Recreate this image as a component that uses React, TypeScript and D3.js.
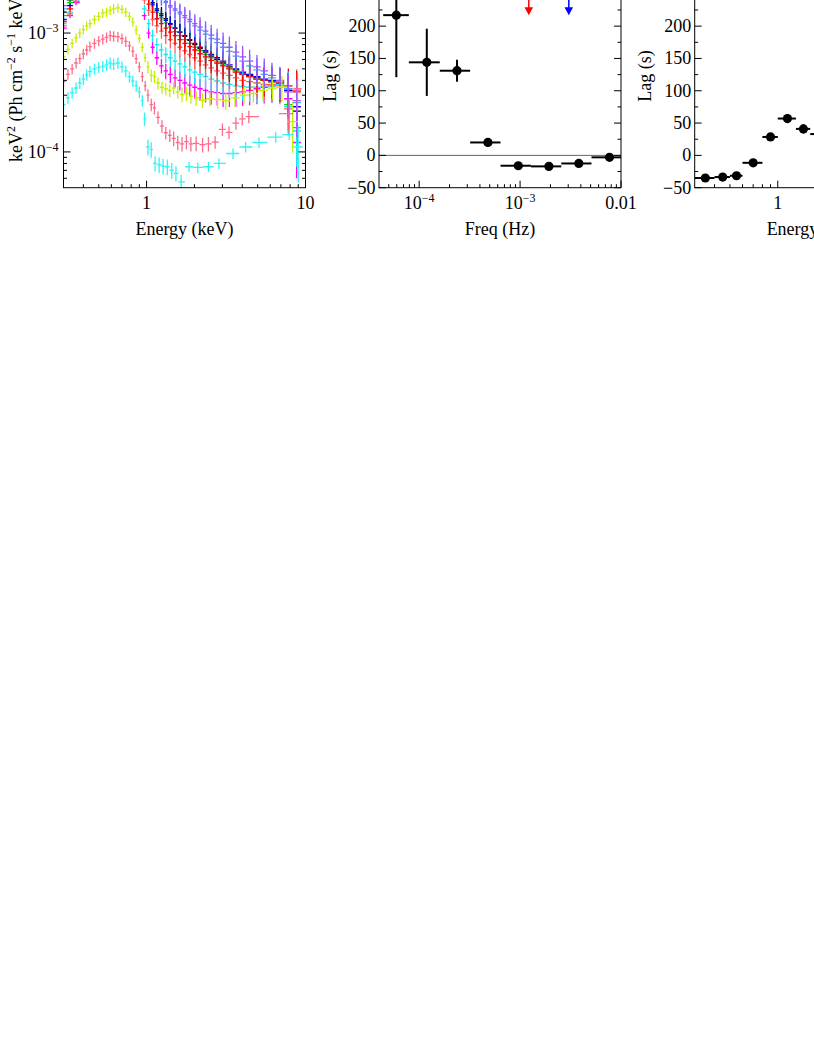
import React from "react";
import * as d3 from "d3";

// ---------------- Panel 1: unfolded spectra (keV^2 Ph cm^-2 s^-1 keV^-1) ----------------
const HI_ENERGY = [0.30, 0.33, 0.36, 0.40, 0.45, 0.52, 0.60, 0.70, 0.80, 0.90, 0.97, 1.03, 1.09, 1.16, 1.24, 1.32, 1.41, 1.51, 1.62, 1.74, 1.87, 2.01, 2.17, 2.35, 2.55, 2.78, 3.03, 3.32, 3.65, 4.02, 4.45, 4.95, 5.50, 6.15, 6.90, 7.80, 8.80];
const HI_ERR = [0.05, 0.05, 0.05, 0.05, 0.05, 0.05, 0.05, 0.05, 0.05, 0.06, 0.08, 0.10, 0.12, 0.13, 0.14, 0.15, 0.16, 0.17, 0.18, 0.19, 0.20, 0.20, 0.21, 0.21, 0.22, 0.22, 0.23, 0.23, 0.24, 0.24, 0.25, 0.26, 0.27, 0.28, 0.30, 0.40, 0.50];

const BLACK_FLUX = [1.5e-3, 1.9e-3, 2.3e-3, 2.8e-3, 3.3e-3, 3.7e-3, 3.9e-3, 3.8e-3, 3.5e-3, 3.0e-3, 2.5e-3, 2.1e-3, 1.8e-3, 1.6e-3, 1.45e-3, 1.32e-3, 1.2e-3, 1.1e-3, 1.02e-3, 9.4e-4, 8.7e-4, 8.0e-4, 7.4e-4, 6.9e-4, 6.4e-4, 6.0e-4, 5.6e-4, 5.2e-4, 4.9e-4, 4.6e-4, 4.4e-4, 4.2e-4, 4.0e-4, 3.9e-4, 3.9e-4, 3.3e-4, 2.2e-4];
const GREEN_FLUX = [1.4e-3, 1.8e-3, 2.2e-3, 2.7e-3, 3.2e-3, 3.6e-3, 3.8e-3, 3.7e-3, 3.4e-3, 2.9e-3, 2.4e-3, 2.0e-3, 1.7e-3, 1.5e-3, 1.35e-3, 1.22e-3, 1.12e-3, 1.03e-3, 9.5e-4, 8.8e-4, 8.2e-4, 7.6e-4, 7.1e-4, 6.6e-4, 6.2e-4, 5.8e-4, 5.4e-4, 5.1e-4, 4.8e-4, 4.5e-4, 4.3e-4, 4.1e-4, 4.0e-4, 3.9e-4, 3.8e-4, 2.5e-4, 1.6e-4];
const BLUE_FLUX = [1.3e-3, 1.7e-3, 2.1e-3, 2.6e-3, 3.1e-3, 3.5e-3, 3.7e-3, 3.6e-3, 3.3e-3, 2.8e-3, 2.3e-3, 2.0e-3, 1.75e-3, 1.55e-3, 1.4e-3, 1.28e-3, 1.18e-3, 1.1e-3, 1.02e-3, 9.5e-4, 8.8e-4, 8.2e-4, 7.6e-4, 7.1e-4, 6.6e-4, 6.2e-4, 5.8e-4, 5.4e-4, 5.0e-4, 4.7e-4, 4.5e-4, 4.3e-4, 4.1e-4, 4.0e-4, 3.9e-4, 3.3e-4, 2.4e-4];
const MAGENTA_FLUX = [1.1e-3, 1.4e-3, 1.8e-3, 2.3e-3, 2.8e-3, 3.2e-3, 3.4e-3, 3.3e-3, 2.9e-3, 2.1e-3, 1.4e-3, 1.0e-3, 7.6e-4, 6.2e-4, 5.3e-4, 4.8e-4, 4.5e-4, 4.2e-4, 4.0e-4, 3.8e-4, 3.65e-4, 3.5e-4, 3.4e-4, 3.3e-4, 3.2e-4, 3.15e-4, 3.1e-4, 3.1e-4, 3.15e-4, 3.2e-4, 3.3e-4, 3.4e-4, 3.5e-4, 3.6e-4, 3.7e-4, 2.8e-4, 1.2e-4];
const CYAN_HIGH_FLUX = [1.2e-3, 1.5e-3, 1.9e-3, 2.4e-3, 2.9e-3, 3.3e-3, 3.5e-3, 3.4e-3, 3.0e-3, 2.3e-3, 1.6e-3, 1.2e-3, 9.5e-4, 8.0e-4, 7.2e-4, 6.6e-4, 6.2e-4, 5.8e-4, 5.5e-4, 5.2e-4, 4.9e-4, 4.7e-4, 4.5e-4, 4.3e-4, 4.1e-4, 3.95e-4, 3.8e-4, 3.7e-4, 3.6e-4, 3.55e-4, 3.5e-4, 3.5e-4, 3.6e-4, 3.6e-4, 3.7e-4, 2.4e-4, 1.5e-4];
const SALMON_FLUX = [1.15e-3, 1.45e-3, 1.85e-3, 2.3e-3, 2.8e-3, 3.2e-3, 3.4e-3, 3.3e-3, 3.0e-3, 2.4e-3, 1.9e-3, 1.55e-3, 1.3e-3, 1.15e-3, 1.04e-3, 9.5e-4, 8.8e-4, 8.2e-4, 7.6e-4, 7.1e-4, 6.6e-4, 6.2e-4, 5.8e-4, 5.4e-4, 5.1e-4, 4.8e-4, 4.6e-4, 4.4e-4, 4.2e-4, 4.0e-4, 3.9e-4, 3.8e-4, 3.7e-4, 3.7e-4, 3.6e-4, 2.3e-4, 3.3e-4];
const RED_FLUX = [1.25e-3, 1.6e-3, 2.0e-3, 2.5e-3, 3.0e-3, 3.4e-3, 3.6e-3, 3.5e-3, 3.2e-3, 2.6e-3, 2.1e-3, 1.75e-3, 1.5e-3, 1.32e-3, 1.2e-3, 1.1e-3, 1.02e-3, 9.5e-4, 8.8e-4, 8.2e-4, 7.7e-4, 7.2e-4, 6.7e-4, 6.3e-4, 5.9e-4, 5.6e-4, 5.3e-4, 5.0e-4, 4.7e-4, 4.5e-4, 4.3e-4, 4.1e-4, 4.0e-4, 3.9e-4, 3.8e-4, 3.6e-4, 3.2e-4];
const LIGHTBLUE_FLUX = [1.6e-3, 2.0e-3, 2.5e-3, 3.0e-3, 3.5e-3, 3.9e-3, 4.1e-3, 4.0e-3, 3.7e-3, 3.2e-3, 2.8e-3, 2.5e-3, 2.3e-3, 2.1e-3, 1.95e-3, 1.8e-3, 1.65e-3, 1.55e-3, 1.45e-3, 1.35e-3, 1.25e-3, 1.15e-3, 1.06e-3, 9.8e-4, 9.0e-4, 8.3e-4, 7.6e-4, 7.0e-4, 6.4e-4, 5.8e-4, 5.3e-4, 4.9e-4, 4.5e-4, 4.2e-4, 3.9e-4, 3.4e-4, 2.6e-4];
const PURPLE_FLUX = [1.7e-3, 2.1e-3, 2.6e-3, 3.1e-3, 3.6e-3, 4.0e-3, 4.2e-3, 4.1e-3, 3.8e-3, 3.3e-3, 2.9e-3, 2.6e-3, 2.4e-3, 2.2e-3, 2.0e-3, 1.85e-3, 1.7e-3, 1.6e-3, 1.5e-3, 1.4e-3, 1.3e-3, 1.2e-3, 1.12e-3, 1.04e-3, 9.6e-4, 8.9e-4, 8.2e-4, 7.6e-4, 6.9e-4, 6.3e-4, 5.8e-4, 5.2e-4, 4.8e-4, 4.4e-4, 4.0e-4, 3.2e-4, 2.7e-4];

const YELLOW_ENERGY = [0.30, 0.32, 0.34, 0.36, 0.38, 0.40, 0.42, 0.44, 0.47, 0.50, 0.53, 0.56, 0.59, 0.62, 0.66, 0.70, 0.74, 0.78, 0.82, 0.86, 0.90, 0.94, 0.98, 1.02, 1.07, 1.12, 1.18, 1.25, 1.32, 1.40, 1.48, 1.57, 1.67, 1.78, 1.90, 2.05, 2.25, 2.50, 2.80, 3.15, 3.60, 4.10, 4.70, 5.40, 6.20, 7.10, 8.30];
const YELLOW_FLUX = [6.3e-4, 7.3e-4, 8.2e-4, 9.1e-4, 1.0e-3, 1.07e-3, 1.15e-3, 1.2e-3, 1.3e-3, 1.38e-3, 1.47e-3, 1.5e-3, 1.55e-3, 1.6e-3, 1.63e-3, 1.58e-3, 1.5e-3, 1.38e-3, 1.24e-3, 1.06e-3, 9.0e-4, 7.6e-4, 6.2e-4, 5.2e-4, 4.4e-4, 4.3e-4, 3.8e-4, 3.5e-4, 3.4e-4, 3.3e-4, 3.45e-4, 3.2e-4, 3.05e-4, 3.1e-4, 2.95e-4, 2.85e-4, 2.72e-4, 2.8e-4, 2.75e-4, 2.7e-4, 2.85e-4, 3.0e-4, 3.1e-4, 3.3e-4, 3.45e-4, 3.5e-4, 1.8e-4];
const YELLOW_ERR = [0.09, 0.09, 0.09, 0.09, 0.09, 0.09, 0.09, 0.09, 0.09, 0.09, 0.09, 0.09, 0.09, 0.09, 0.09, 0.09, 0.09, 0.09, 0.09, 0.09, 0.09, 0.09, 0.09, 0.12, 0.12, 0.12, 0.12, 0.12, 0.12, 0.12, 0.12, 0.12, 0.14, 0.14, 0.14, 0.14, 0.14, 0.14, 0.16, 0.16, 0.16, 0.16, 0.16, 0.18, 0.20, 0.25, 0.45];

const PINK_ENERGY = [0.30, 0.32, 0.34, 0.36, 0.38, 0.40, 0.42, 0.44, 0.47, 0.50, 0.53, 0.56, 0.59, 0.62, 0.66, 0.70, 0.74, 0.78, 0.82, 0.86, 0.90, 0.94, 0.98, 1.02, 1.07, 1.12, 1.18, 1.25, 1.32, 1.40, 1.48, 1.57, 1.67, 1.78, 1.90, 2.05, 2.25, 2.45, 2.70, 3.00, 3.30, 3.65, 4.00, 4.40, 7.90, 8.90];
const PINK_FLUX = [3.9e-4, 4.5e-4, 5.0e-4, 5.6e-4, 6.1e-4, 6.7e-4, 7.2e-4, 7.7e-4, 8.2e-4, 8.6e-4, 8.9e-4, 9.2e-4, 9.5e-4, 9.4e-4, 9.3e-4, 9.0e-4, 8.5e-4, 7.8e-4, 7.0e-4, 6.1e-4, 5.2e-4, 4.3e-4, 3.6e-4, 3.0e-4, 2.5e-4, 2.35e-4, 1.95e-4, 1.65e-4, 1.45e-4, 1.38e-4, 1.30e-4, 1.20e-4, 1.17e-4, 1.22e-4, 1.17e-4, 1.18e-4, 1.15e-4, 1.17e-4, 1.21e-4, 1.55e-4, 1.46e-4, 1.75e-4, 1.9e-4, 1.98e-4, 2.1e-4, 3.4e-4];
const PINK_ERR = [0.10, 0.10, 0.10, 0.10, 0.10, 0.10, 0.10, 0.10, 0.10, 0.10, 0.10, 0.10, 0.10, 0.10, 0.10, 0.10, 0.10, 0.10, 0.10, 0.10, 0.10, 0.10, 0.10, 0.12, 0.12, 0.12, 0.12, 0.12, 0.12, 0.12, 0.14, 0.14, 0.14, 0.14, 0.14, 0.14, 0.14, 0.14, 0.12, 0.12, 0.12, 0.12, 0.12, 0.12, 0.30, 0.35];

const CYAN_ENERGY = [0.30, 0.32, 0.34, 0.36, 0.38, 0.40, 0.42, 0.44, 0.47, 0.50, 0.53, 0.56, 0.59, 0.62, 0.66, 0.70, 0.74, 0.78, 0.82, 0.86, 0.90, 0.94, 0.97, 1.02, 1.07, 1.13, 1.20, 1.27, 1.35, 1.44, 1.53, 1.65, 1.85, 2.10, 2.45, 2.85, 3.50, 4.20, 5.10, 6.50, 7.90, 9.00];
const CYAN_FLUX = [2.5e-4, 2.85e-4, 3.15e-4, 3.45e-4, 3.8e-4, 4.1e-4, 4.45e-4, 4.75e-4, 5.0e-4, 5.15e-4, 5.25e-4, 5.4e-4, 5.6e-4, 5.5e-4, 5.6e-4, 5.2e-4, 4.8e-4, 4.3e-4, 3.95e-4, 3.6e-4, 3.2e-4, 2.7e-4, 1.9e-4, 1.1e-4, 1.05e-4, 8.0e-5, 7.8e-5, 7.6e-5, 7.5e-5, 7.0e-5, 6.6e-5, 5.6e-5, 7.5e-5, 7.4e-5, 7.5e-5, 8.0e-5, 9.7e-5, 1.1e-4, 1.2e-4, 1.33e-4, 1.4e-4, 1.1e-4];
const CYAN_ERR = [0.11, 0.11, 0.11, 0.11, 0.11, 0.11, 0.11, 0.11, 0.11, 0.11, 0.11, 0.11, 0.11, 0.11, 0.11, 0.11, 0.11, 0.11, 0.11, 0.11, 0.11, 0.11, 0.13, 0.15, 0.15, 0.15, 0.15, 0.15, 0.15, 0.15, 0.15, 0.15, 0.10, 0.10, 0.10, 0.10, 0.10, 0.10, 0.10, 0.10, 0.10, 0.50];

const SPEC_X_TICKS = [1, 10];
const SPEC_X_LABELS = ["1", "10"];
const SPEC_Y_TICKS = [1e-3, 1e-4];
const SPEC_Y_EXPONENTS = ["\u22123", "\u22124"];

// ---------------- Panel 2: lag vs frequency ----------------
const FREQ_MID = [5.94e-5, 1.19e-4, 2.37e-4, 4.8e-4, 9.6e-4, 1.93e-3, 3.82e-3, 7.69e-3];
const FREQ_LO = [4.4e-5, 7.9e-5, 1.6e-4, 3.2e-4, 6.4e-4, 1.28e-3, 2.56e-3, 5.1e-3];
const FREQ_HI = [7.9e-5, 1.6e-4, 3.2e-4, 6.4e-4, 1.28e-3, 2.56e-3, 5.1e-3, 1.0e-2];
const FREQ_LAG = [217, 144, 131, 20, -16, -17, -12.5, -3];
const FREQ_LAG_ERR = [96, 52, 17, 5, 3, 3, 3, 4];
const ARROW_FREQ = [1.22e-3, 3.04e-3];
const ARROW_TIP_LAG = 217;
const FREQ_TICKS = [1e-4, 1e-3, 1e-2];
const FREQ_LABELS: [string, string][] = [["10", "\u22124"], ["10", "\u22123"], ["0.01", ""]];

// ---------------- Panel 3: lag vs energy ----------------
const EN_MID = [0.35, 0.45, 0.55, 0.70, 0.90, 1.15, 1.45, 1.80];
const EN_LO = [0.30, 0.40, 0.50, 0.60, 0.80, 1.00, 1.30, 1.60];
const EN_HI = [0.40, 0.50, 0.60, 0.80, 1.00, 1.30, 1.60, 2.00];
const EN_LAG = [-35, -33.5, -31.5, -11.5, 28.5, 57, 41, 33];
const EN_LAG_ERR = [3, 3, 3, 3, 3, 7, 7, 4];

const LAG_TICKS = [-50, 0, 50, 100, 150, 200, 250, 300];
const LAG_MINOR = [-25, 25, 75, 125, 175, 225, 275];

// ---------------- layout ----------------
const FONT = "'Liberation Serif','Times New Roman',Times,serif";
const LEFTS = [63.5, 379, 694.7];
const PW = 242;
const TOP = -38.5;
const BOT = 187.7;
const MAJ = 7;
const MIN = 3.5;

function logMinor(d0: number, d1: number) {
  const out: number[] = [];
  for (let p = Math.floor(Math.log10(d0)); p <= Math.ceil(Math.log10(d1)); p++) {
    for (let k = 2; k <= 9; k++) {
      const v = k * Math.pow(10, p);
      if (v > d0 * 1.0001 && v < d1 * 0.9999) out.push(v);
    }
  }
  return out;
}

function crossPath(E: number[], V: number[], R: number[], xs: any, ys: any, capDex: number) {
  let d = "";
  const n = E.length;
  const cap = Math.pow(10, capDex);
  for (let i = 0; i < n; i++) {
    const e = E[i];
    const v = V[i];
    const r = R[i];
    const prev = i > 0 ? E[i - 1] : (e * e) / E[i + 1];
    const next = i < n - 1 ? E[i + 1] : (e * e) / E[i - 1];
    const lo = Math.max(Math.sqrt(prev * e), e / cap);
    const hi = Math.min(Math.sqrt(next * e), e * cap);
    const yv = ys(v);
    d += `M${xs(lo).toFixed(2)},${yv.toFixed(2)}H${xs(hi).toFixed(2)}`;
    d += `M${xs(e).toFixed(2)},${ys(v * (1 + r)).toFixed(2)}V${ys(Math.max(v * (1 - r), 1e-7)).toFixed(2)}`;
  }
  return d;
}

function Box({ left, xs, ys, xMaj, xMin, yMaj, yMin }: any) {
  const right = left + PW;
  const lines: any[] = [];
  xMaj.forEach((t: number, i: number) => {
    const x = xs(t);
    lines.push(<line key={"xb" + i} x1={x} x2={x} y1={BOT} y2={BOT - MAJ} />);
    lines.push(<line key={"xt" + i} x1={x} x2={x} y1={TOP} y2={TOP + MAJ} />);
  });
  xMin.forEach((t: number, i: number) => {
    const x = xs(t);
    lines.push(<line key={"xbm" + i} x1={x} x2={x} y1={BOT} y2={BOT - MIN} />);
    lines.push(<line key={"xtm" + i} x1={x} x2={x} y1={TOP} y2={TOP + MIN} />);
  });
  yMaj.forEach((t: number, i: number) => {
    const y = ys(t);
    lines.push(<line key={"yl" + i} x1={left} x2={left + MAJ} y1={y} y2={y} />);
    lines.push(<line key={"yr" + i} x1={right} x2={right - MAJ} y1={y} y2={y} />);
  });
  yMin.forEach((t: number, i: number) => {
    const y = ys(t);
    lines.push(<line key={"ylm" + i} x1={left} x2={left + MIN} y1={y} y2={y} />);
    lines.push(<line key={"yrm" + i} x1={right} x2={right - MIN} y1={y} y2={y} />);
  });
  return (
    <g stroke="#000" strokeWidth={1} fill="none">
      <rect x={left} y={TOP} width={PW} height={BOT - TOP} />
      {lines}
    </g>
  );
}

function LagPoints({ xs, ys, mid, lo, hi, lag, err }: any) {
  return (
    <g>
      {mid.map((m: number, i: number) => (
        <g key={i} stroke="#000" strokeWidth={2}>
          <line x1={xs(lo[i])} x2={xs(hi[i])} y1={ys(lag[i])} y2={ys(lag[i])} />
          <line x1={xs(m)} x2={xs(m)} y1={ys(lag[i] + err[i])} y2={ys(lag[i] - err[i])} />
          <circle cx={xs(m)} cy={ys(lag[i])} r={4.6} fill="#000" stroke="none" />
        </g>
      ))}
    </g>
  );
}

function LagYLabels({ left, ys }: any) {
  return (
    <g fontFamily={FONT} fontSize={18} textAnchor="end" fill="#000">
      {LAG_TICKS.map((t) => (
        <text key={t} x={left - 3.5} y={ys(t) + 6}>
          {t < 0 ? "\u2212" + Math.abs(t) : String(t)}
        </text>
      ))}
    </g>
  );
}

export default function App() {
  const x1 = d3.scaleLog().domain([0.3, 10]).range([LEFTS[0], LEFTS[0] + PW]);
  const y1 = d3.scaleLog().domain([5e-5, 4e-3]).range([BOT, TOP]);
  const x2 = d3.scaleLog().domain([4e-5, 1e-2]).range([LEFTS[1], LEFTS[1] + PW]);
  const x3 = d3.scaleLog().domain([0.3, 10]).range([LEFTS[2], LEFTS[2] + PW]);
  const yLag = d3.scaleLinear().domain([-50, 300]).range([BOT, TOP]);

  const highSeries = [
    { v: BLACK_FLUX, c: "#000000" },
    { v: GREEN_FLUX, c: "#00dd00" },
    { v: BLUE_FLUX, c: "#0000ff" },
    { v: MAGENTA_FLUX, c: "#ff00ff" },
    { v: CYAN_HIGH_FLUX, c: "#18e8f0" },
    { v: SALMON_FLUX, c: "#ff5c5c" },
    { v: RED_FLUX, c: "#ff0000" },
    { v: LIGHTBLUE_FLUX, c: "#3aa6ff" },
    { v: PURPLE_FLUX, c: "#a050ff" },
  ];
  const lowSeries = [
    { e: YELLOW_ENERGY, v: YELLOW_FLUX, r: YELLOW_ERR, c: "#c4f000" },
    { e: PINK_ENERGY, v: PINK_FLUX, r: PINK_ERR, c: "#ff6b88" },
    { e: CYAN_ENERGY, v: CYAN_FLUX, r: CYAN_ERR, c: "#2ff5f5" },
  ];

  const enMin = logMinor(0.3, 10);
  const freqMin = logMinor(4e-5, 1e-2);
  const fluxMin = logMinor(5e-5, 4e-3);

  return (
    <div style={{ position: "absolute", left: 0, top: 0 }}>
      <svg width={814} height={1053} style={{ display: "block", background: "#fff" }}>
        <defs>
          <clipPath id="clip1">
            <rect x={LEFTS[0]} y={TOP} width={PW} height={BOT - TOP} />
          </clipPath>
        </defs>
        <rect x={0} y={0} width={814} height={1053} fill="#fff" />

        {/* Panel 1 */}
        <g clipPath="url(#clip1)" fill="none" strokeWidth={1.3}>
          {highSeries.map((s, i) => (
            <path key={"h" + i} d={crossPath(HI_ENERGY, s.v, HI_ERR, x1, y1, 0.05)} stroke={s.c} />
          ))}
          {lowSeries.map((s, i) => (
            <path key={"l" + i} d={crossPath(s.e, s.v, s.r, x1, y1, 0.065)} stroke={s.c} />
          ))}
        </g>
        <Box left={LEFTS[0]} xs={x1} ys={y1} xMaj={SPEC_X_TICKS} xMin={enMin} yMaj={SPEC_Y_TICKS} yMin={fluxMin} />
        <g fontFamily={FONT} fontSize={18} fill="#000">
          {SPEC_X_TICKS.map((t, i) => (
            <text key={t} x={x1(t)} y={208.5} textAnchor="middle">{SPEC_X_LABELS[i]}</text>
          ))}
          {SPEC_Y_TICKS.map((t, i) => (
            <text key={t} x={LEFTS[0] - 5} y={y1(t) + 6} textAnchor="end">
              10<tspan dy={-7} fontSize={12}>{SPEC_Y_EXPONENTS[i]}</tspan>
            </text>
          ))}
          <text x={LEFTS[0] + PW / 2} y={234.5} textAnchor="middle">Energy (keV)</text>
          <text transform={`translate(21.5,162) rotate(-90)`} textAnchor="start">
            keV<tspan dy={-7} fontSize={12}>2</tspan>
            <tspan dy={7}> (Ph cm</tspan>
            <tspan dy={-7} fontSize={12}>{"\u22122"}</tspan>
            <tspan dy={7}> s</tspan>
            <tspan dy={-7} fontSize={12}>{"\u22121"}</tspan>
            <tspan dy={7}> keV</tspan>
            <tspan dy={-7} fontSize={12}>{"\u22121"}</tspan>
            <tspan dy={7}>)</tspan>
          </text>
        </g>

        {/* Panel 2 */}
        <line x1={LEFTS[1]} x2={LEFTS[1] + PW} y1={yLag(0)} y2={yLag(0)} stroke="#666" strokeWidth={1} />
        <LagPoints xs={x2} ys={yLag} mid={FREQ_MID} lo={FREQ_LO} hi={FREQ_HI} lag={FREQ_LAG} err={FREQ_LAG_ERR} />
        {ARROW_FREQ.map((f, i) => {
          const x = x2(f);
          const tip = yLag(ARROW_TIP_LAG);
          const col = i === 0 ? "#ff0000" : "#0000ff";
          return (
            <g key={"a" + i}>
              <line x1={x} x2={x} y1={yLag(300)} y2={tip - 4} stroke={col} strokeWidth={1.5} />
              <polygon points={`${x},${tip} ${x - 4.3},${tip - 8} ${x + 4.3},${tip - 8}`} fill={col} />
            </g>
          );
        })}
        <Box left={LEFTS[1]} xs={x2} ys={yLag} xMaj={FREQ_TICKS} xMin={freqMin} yMaj={LAG_TICKS} yMin={LAG_MINOR} />
        <LagYLabels left={LEFTS[1]} ys={yLag} />
        <g fontFamily={FONT} fontSize={18} fill="#000">
          {FREQ_TICKS.map((t, i) => (
            <text key={t} x={x2(t)} y={208.5} textAnchor="middle">
              {FREQ_LABELS[i][0]}
              {FREQ_LABELS[i][1] ? <tspan dy={-7} fontSize={12}>{FREQ_LABELS[i][1]}</tspan> : null}
            </text>
          ))}
          <text x={LEFTS[1] + PW / 2} y={234.5} textAnchor="middle">Freq (Hz)</text>
          <text transform={`translate(${LEFTS[1] - 43.5},76) rotate(-90)`} textAnchor="middle">Lag (s)</text>
        </g>

        {/* Panel 3 */}
        <LagPoints xs={x3} ys={yLag} mid={EN_MID} lo={EN_LO} hi={EN_HI} lag={EN_LAG} err={EN_LAG_ERR} />
        <Box left={LEFTS[2]} xs={x3} ys={yLag} xMaj={SPEC_X_TICKS} xMin={enMin} yMaj={LAG_TICKS} yMin={LAG_MINOR} />
        <LagYLabels left={LEFTS[2]} ys={yLag} />
        <g fontFamily={FONT} fontSize={18} fill="#000">
          {SPEC_X_TICKS.map((t, i) => (
            <text key={t} x={x3(t)} y={208.5} textAnchor="middle">{SPEC_X_LABELS[i]}</text>
          ))}
          <text x={LEFTS[2] + PW / 2} y={234.5} textAnchor="middle">Energy (keV)</text>
          <text transform={`translate(${LEFTS[2] - 43.5},76) rotate(-90)`} textAnchor="middle">Lag (s)</text>
        </g>
      </svg>
    </div>
  );
}
